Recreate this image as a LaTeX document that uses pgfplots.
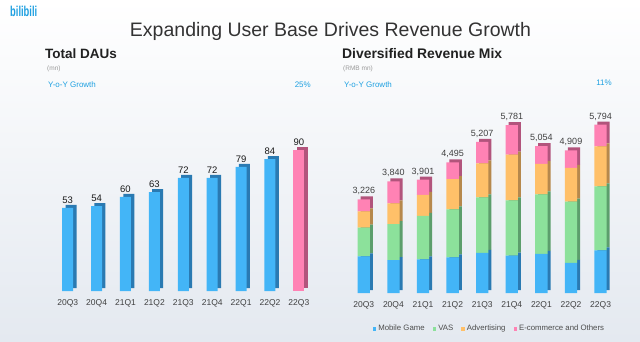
\documentclass[border=0pt]{standalone}
\usepackage{fontspec}
\setmainfont{Liberation Sans}
\usepackage{pgfplots}
\usepackage{pgfplotstable}
\pgfplotsset{compat=1.18}
\definecolor{bfront}{RGB}{67,181,247}
\definecolor{bside}{RGB}{42,122,178}
\definecolor{gfront}{RGB}{140,225,155}
\definecolor{gside}{RGB}{92,158,108}
\definecolor{ofront}{RGB}{255,192,105}
\definecolor{oside}{RGB}{182,136,76}
\definecolor{pfront}{RGB}{255,130,180}
\definecolor{pside}{RGB}{178,84,124}
\definecolor{tblue}{RGB}{30,160,225}
\definecolor{bgc}{RGB}{228,233,240}
\pgfplotstableread{
x dau
0 53
1 54
2 60
3 63
4 72
5 72
6 79
7 84
}\dauA
\pgfplotstableread{
x dau
8 90
}\dauB
\pgfplotstableread{
x mg vas ad ec total
0 1263 987 563 413 3226
1 1130 1240 720 750 3840
2 1155 1499 721 526 3901
3 1227 1651 1043 574 4495
4 1382 1907 1176 742 5207
5 1291 1896 1577 1017 5781
6 1349 2046 1052 607 5054
7 1041 2104 1167 597 4909
8 1465 2209 1375 745 5794
}\rev
\pgfplotsset{
  /pgf/number format/assume math mode=true,
  sqleg/.style={legend image code/.code={\fill[##1] (0pt,-1.8pt) rectangle (3.6pt,1.8pt);}},
  base/.style={scale only axis, clip=false, enlargelimits=false,
    axis line style={draw=none}, major tick length=0pt, ytick=\empty,
    xmin=-0.5, xmax=8.5, ymin=0},
  leftax/.style={base, width=260.1pt, height=157pt, ymax=100, ybar, bar width=11pt},
  rightax/.style={base, width=266.4pt, height=188.8pt, ymax=6500, ybar stacked, bar width=12.3pt},
}
\begin{document}
\begin{tikzpicture}
\shade[top color=white, middle color=white, bottom color=bgc] (0pt,0pt) rectangle (640pt,341pt);
\path[use as bounding box] (0pt,0pt) rectangle (640pt,341pt);
% texts
\node[anchor=base west, inner sep=0, text=tblue, font=\bfseries\fontsize{13}{14}\selectfont] at (10pt,324pt) {\scalebox{0.72}[1.1]{bilibili}};
\node[anchor=base, inner sep=0, text=black!80, font=\fontsize{19.5}{22}\selectfont] at (330.5pt,305pt) {Expanding User Base Drives Revenue Growth};
\node[anchor=base west, inner sep=0, text=black!87, font=\bfseries\fontsize{13.5}{16}\selectfont] at (45pt,283pt) {Total DAUs};
\node[anchor=base west, inner sep=0, text=black!40, font=\fontsize{6.5}{7}\selectfont] at (47pt,271pt) {(mn)};
\node[anchor=base west, inner sep=0, text=tblue, font=\fontsize{8}{9}\selectfont] at (48pt,254pt) {Y-o-Y Growth};
\node[anchor=base east, inner sep=0, text=tblue, font=\fontsize{8}{9}\selectfont] at (311pt,254pt) {25\%};
\node[anchor=base west, inner sep=0, text=black!87, font=\bfseries\fontsize{13.9}{16}\selectfont] at (342pt,283pt) {Diversified Revenue Mix};
\node[anchor=base west, inner sep=0, text=black!40, font=\fontsize{6.5}{7}\selectfont] at (343pt,271pt) {(RMB mn)};
\node[anchor=base west, inner sep=0, text=tblue, font=\fontsize{8}{9}\selectfont] at (344pt,254pt) {Y-o-Y Growth};
\node[anchor=base east, inner sep=0, text=tblue, font=\fontsize{8}{9}\selectfont] at (612pt,256pt) {11\%};
% ---- left chart: depth layer
\begin{axis}[leftax, at={(56.6pt,53pt)}, anchor=south west, xtick=\empty]
\addplot[fill=bside, draw=none, bar shift=0pt] table[x=x,y=dau]{\dauA};
\addplot[fill=pside, draw=none, bar shift=0pt] table[x=x,y=dau]{\dauB};
\end{axis}
% ---- left chart: front
\begin{axis}[leftax, at={(53.25pt,50pt)}, anchor=south west,
  xtick={0,...,8}, xticklabels={20Q3,20Q4,21Q1,21Q2,21Q3,21Q4,22Q1,22Q2,22Q3},
  xticklabel style={font=\fontsize{8.5}{9}\selectfont, text=black!75, yshift=-5pt},
  nodes near coords, nodes near coords style={font=\fontsize{9.5}{10}\selectfont, text=black!90, yshift=1pt}]
\addplot[fill=bfront, draw=none, bar shift=0pt] table[x=x,y=dau]{\dauA};
\addplot[fill=pfront, draw=none, bar shift=0pt] table[x=x,y=dau]{\dauB};
\end{axis}
% ---- right chart: depth layer
\begin{axis}[rightax, at={(352pt,51pt)}, anchor=south west, xtick=\empty]
\addplot[fill=bside, draw=none] table[x=x,y=mg]{\rev};
\addplot[fill=gside, draw=none] table[x=x,y=vas]{\rev};
\addplot[fill=oside, draw=none] table[x=x,y=ad]{\rev};
\addplot[fill=pside, draw=none] table[x=x,y=ec]{\rev};
\end{axis}
% ---- right chart: front
\begin{axis}[rightax, at={(349pt,48pt)}, anchor=south west,
  xtick={0,...,8}, xticklabels={20Q3,20Q4,21Q1,21Q2,21Q3,21Q4,22Q1,22Q2,22Q3},
  xticklabel style={font=\fontsize{8.5}{9}\selectfont, text=black!75, yshift=-5pt},
  legend columns=4,
  legend style={draw=none, fill=none, at={(0.527,-0.19)}, anchor=center,
    font=\fontsize{7.8}{8}\selectfont, text=black!70,
    /tikz/every even column/.append style={column sep=6pt},
    /tikz/every odd column/.append style={column sep=0pt}}]
\addplot[fill=bfront, draw=none, sqleg] table[x=x,y=mg]{\rev};
\addlegendentry{Mobile Game}
\addplot[fill=gfront, draw=none, sqleg] table[x=x,y=vas]{\rev};
\addlegendentry{VAS}
\addplot[fill=ofront, draw=none, sqleg] table[x=x,y=ad]{\rev};
\addlegendentry{Advertising}
\addplot[fill=pfront, draw=none, sqleg] table[x=x,y=ec]{\rev};
\addlegendentry{E-commerce and Others}
\end{axis}
% ---- right chart: total labels
\begin{axis}[base, width=266.4pt, height=188.8pt, ymax=6500, ybar, bar width=12.3pt,
  at={(349pt,48pt)}, anchor=south west, xtick=\empty,
  nodes near coords={\pgfmathprintnumber[fixed, precision=0, 1000 sep={,}]{\pgfplotspointmeta}},
  nodes near coords style={font=\fontsize{9}{10}\selectfont, text=black!75, yshift=1pt}]
\addplot[draw=none, fill=none, bar shift=0pt] table[x=x,y=total]{\rev};
\end{axis}
\end{tikzpicture}
\end{document}
